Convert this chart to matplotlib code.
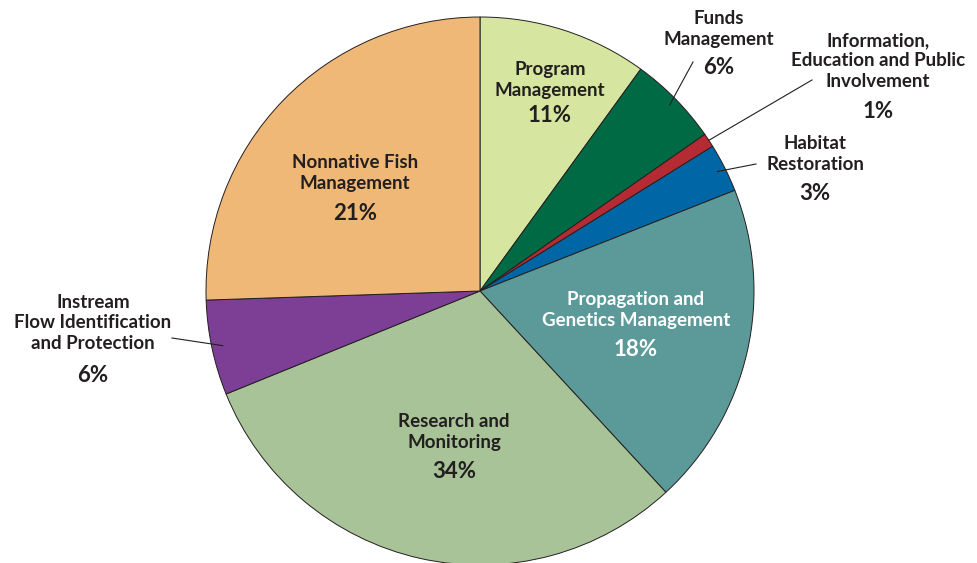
import numpy as np
import matplotlib.pyplot as plt

plt.rcParams['font.family'] = ['Lato', 'DejaVu Sans']

# slices clockwise from 12 o'clock; shares
categories = ['Program\nManagement', 'Funds\nManagement',
              'Information,\nEducation and Public\nInvolvement',
              'Habitat\nRestoration', 'Propagation and\nGenetics Management',
              'Research and\nMonitoring',
              'Instream\nFlow Identification\nand Protection',
              'Nonnative Fish\nManagement']
shares = [9.97, 5.33, 0.83, 2.86, 19.1, 30.7, 5.6, 25.5]
pct_labels = ['11%', '6%', '1%', '3%', '18%', '34%', '6%', '21%']
colors = ['#d6e6a0', '#006a45', '#b52b33', '#0066a6', '#5b9a99',
          '#a8c397', '#7d3e96', '#efb877']

W, H = 977, 563
fig = plt.figure(figsize=(W / 100, H / 100), dpi=100)
ax = fig.add_axes([0, 0, 1, 1])

cx, cy, R = 480, H - 291, 274
wedges, _ = ax.pie(shares, colors=colors, startangle=90, counterclock=False,
                   center=(cx, cy), radius=R, frame=True,
                   wedgeprops=dict(edgecolor='#231f20', linewidth=0.7))
ax.set_xlim(0, W)
ax.set_ylim(0, H)
ax.set_aspect('equal')
ax.axis('off')

ink = '#231f20'
# name block centre x, y and percent y in image px, colour, leader radius
spots = [
    (550, 80, 115, ink, None),
    (719, 29, 68, ink, 0.97),
    (878, 61, 112, ink, 1.0),
    (815, 154, 193, ink, 0.97),
    (636, 310, 350, 'white', None),
    (454, 432, 472, ink, None),
    (93, 323, 375, ink, 0.96),
    (355, 173, 213, ink, None),
]
lead_from = {1: (693, 62), 2: (812, 80), 3: (756, 164), 6: (172, 338)}

for i, (w, name, pct, sp) in enumerate(zip(wedges, categories, pct_labels, spots)):
    x, yn, yp, col, rf = sp
    ax.text(x, H - yn, name, ha='center', va='center', fontsize=13.5,
            fontweight='bold', color=col, linespacing=1.22)
    ax.text(x, H - yp, pct, ha='center', va='center', fontsize=16,
            fontweight='bold', color=col)
    if rf is not None:
        mid = np.deg2rad((w.theta1 + w.theta2) / 2)
        ax_ = cx + rf * R * np.cos(mid)
        ay_ = cy + rf * R * np.sin(mid)
        fx, fy = lead_from[i]
        ax.plot([fx, ax_], [H - fy, ay_], color=ink, lw=0.8)

fig.savefig('out.png', dpi=100)
